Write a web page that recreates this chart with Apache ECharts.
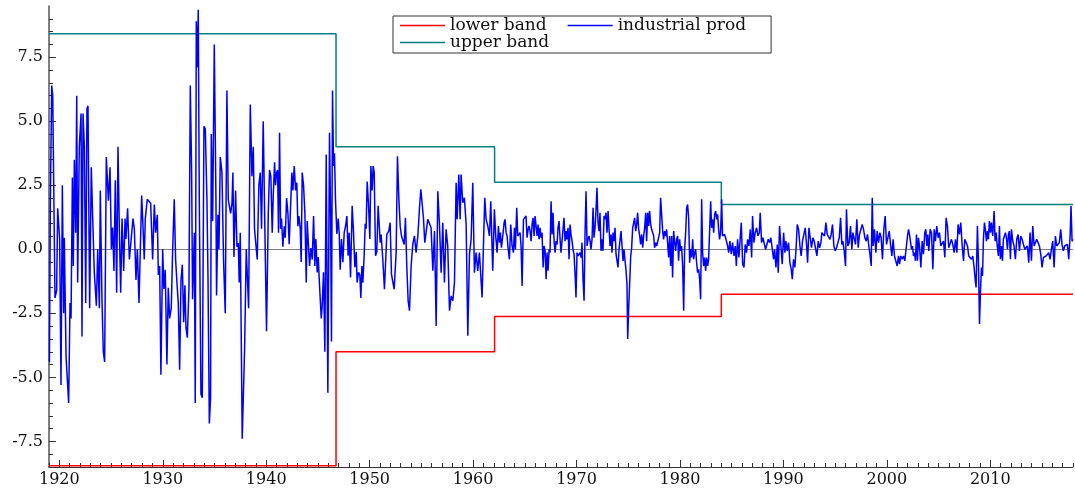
<!DOCTYPE html>
<html>
<head>
<meta charset="utf-8">
<script src="https://cdn.jsdelivr.net/npm/echarts@6/dist/echarts.min.js"></script>
<style>
html,body{margin:0;padding:0;background:#fff;}
#chart{width:1075px;height:493px;}
</style>
</head>
<body>
<div id="chart"></div>
<script>
// ---- data (decimal year, growth %) ----
const t1 = [1919.04,1919.13,1919.26,1919.36,1919.58,1919.74,1919.84,1920.03,1920.16,1920.29,
1920.42,1920.48,1920.65,1920.81,1920.90,1921.03,1921.13,1921.26,1921.35,1921.45,
1921.58,1921.68,1921.77,1921.93,1922.10,1922.19,1922.29,1922.42,1922.55,1922.67,
1922.77,1922.93,1923.09,1923.19,1923.38,1923.58,1923.71,1923.87,1923.96,1924.12,
1924.25,1924.38,1924.54,1924.74,1924.90,1925.03,1925.15,1925.28,1925.41,1925.54,
1925.67,1925.80,1925.93,1926.06,1926.22,1926.35,1926.44,1926.60,1926.77,1926.93,
1927.12,1927.25,1927.41,1927.54,1927.70,1927.83,1927.96,1928.09,1928.21,1928.31,
1928.50,1928.67,1928.83,1929.02,1929.18,1929.31,1929.47,1929.57,1929.70,1929.82,
1929.99,1930.11,1930.24,1930.40,1930.53,1930.66,1930.82,1930.95,1931.11,1931.24,
1931.40,1931.50,1931.63,1931.76,1931.89,1932.02,1932.14,1932.24,1932.37,1932.53,
1932.66,1932.79,1932.88,1933.05,1933.14,1933.24,1933.34,1933.43,1933.53,1933.69,
1933.82,1933.98,1934.11,1934.27,1934.37,1934.50,1934.62,1934.69,1934.82,1934.98,
1935.14,1935.20];
const v1 = [-4.4,1.8,6.4,6.0,-1.9,-1.6,1.6,0.4,-5.3,2.5,
-2.5,0.45,-4.2,-4.2,-6.0,-2.1,-2.7,2.8,-0.65,3.5,
0.65,6.0,-1.3,4.0,5.3,-3.4,5.3,4.0,-2.1,5.5,
5.6,-2.3,3.2,1.7,-0.9,-2.2,0.0,-2.3,2.3,-1.95,
-4.0,-4.4,3.6,1.9,3.2,0.0,0.85,-0.85,2.7,-1.7,
4.0,0.8,-1.7,1.2,-0.85,1.2,0.4,1.6,-0.4,-0.4,
1.2,0.8,-1.2,0.0,-2.1,0.0,2.1,0.85,-0.4,1.2,
1.95,1.9,1.8,-0.4,1.75,0.65,1.35,-1.0,-0.65,-4.9,
0.0,-1.55,-0.8,-4.5,-1.5,-2.7,-2.3,-0.1,1.95,-0.4,
-1.5,-2.1,-4.7,-1.2,-0.6,-2.85,-1.4,-3.05,-3.45,-1.55,
6.4,3.0,-1.95,0.65,-6.0,8.9,7.1,9.35,1.95,-5.65,
-5.8,4.8,4.7,1.95,-1.05,-6.8,-5.8,4.5,1.1,8.0,
1.95,-1.8];

const t2 = [1935.33,1935.43,1935.56,1935.72,1935.88,1936.04,1936.20,1936.33,1936.46,1936.56,
1936.69,1936.78,1936.88,1937.04,1937.17,1937.30,1937.39,1937.49,1937.68,1937.91,
1938.07,1938.30,1938.46,1938.62,1938.75,1938.87,1939.00,1939.13,1939.29,1939.42,
1939.55,1939.71,1939.87,1940.03,1940.20,1940.32,1940.45,1940.58,1940.68,1940.81,
1940.90,1941.00,1941.10,1941.19,1941.29,1941.39,1941.48,1941.61,1941.74,1941.84,
1941.97,1942.10,1942.22,1942.35,1942.48,1942.58,1942.71,1942.84,1942.96,1943.06,
1943.16,1943.29,1943.38,1943.48,1943.61,1943.74,1943.87,1943.96,1944.09,1944.19,
1944.32,1944.45,1944.58,1944.70,1944.80,1944.93,1945.03,1945.16,1945.32,1945.41,
1945.54,1945.67,1945.80,1945.96,1946.12,1946.22,1946.31,1946.41,1946.51,1946.60,
1946.70,1946.83,1946.96,1947.06,1947.15,1947.28,1947.41,1947.54,1947.67,1947.80,
1947.92,1948.02,1948.15,1948.31,1948.44,1948.57,1948.70,1948.79,1948.92,1949.05,
1949.15,1949.25,1949.34,1949.47,1949.57,1949.66,1949.76,1949.89,1950.02,1950.12,
1950.24,1950.34,1950.44,1950.57,1950.69,1950.82];
const v2 = [1.35,0.0,3.6,3.0,-0.5,-2.5,6.2,1.95,1.9,1.4,
1.8,3.0,-0.3,2.3,0.1,0.25,-1.3,0.65,-7.4,-3.9,
0.0,-2.3,5.65,2.85,4.0,0.8,0.75,-0.4,2.5,3.0,
0.8,5.0,0.8,-3.2,1.4,3.1,2.85,0.65,2.1,3.4,
2.5,3.0,3.1,0.65,4.55,0.8,1.2,0.1,0.9,0.45,
2.0,1.4,0.2,0.25,3.0,2.3,3.25,2.3,2.6,0.9,
1.3,0.8,-0.5,3.0,2.5,1.4,-1.3,1.1,0.1,-0.65,
0.05,-0.4,1.3,-0.65,0.4,-0.9,-0.3,-1.45,-2.7,-2.2,
-0.9,-4.0,3.7,-5.6,4.55,1.4,-3.6,6.2,3.25,3.75,
1.9,0.6,1.2,0.6,-0.8,0.4,-0.5,0.65,0.9,1.3,
-0.25,0.65,-1.1,1.7,0.65,-0.7,-0.1,-1.3,-0.9,-1.0,
-1.9,-0.65,-1.3,-0.25,1.0,0.8,2.65,1.75,0.4,3.25,
2.3,3.25,3.0,-0.25,-0.1,1.7];

const t3 = [1951.02,1951.11,1951.27,1951.43,1951.66,1951.85,1951.98,1952.11,1952.24,1952.37,
1952.56,1952.69,1952.82,1952.95,1953.08,1953.21,1953.34,1953.46,1953.59,1953.72,
1953.85,1954.01,1954.17,1954.33,1954.49,1954.66,1954.82,1954.95,1955.07,1955.20,
1955.33,1955.46,1955.62,1955.78,1955.94,1956.11,1956.27,1956.43,1956.59,1956.75,
1956.91,1957.07,1957.23,1957.39,1957.55,1957.72,1957.88,1958.04,1958.20,1958.36,
1958.46,1958.62,1958.75,1958.84,1959.00,1959.16,1959.33,1959.49,1959.65,1959.81,
1959.97,1960.13,1960.29,1960.45,1960.61,1960.77,1960.87,1961.00,1961.13,1961.26,
1961.42,1961.58,1961.71,1961.84,1961.90];
const v3 = [0.26,0.58,-0.39,-1.56,0.58,0.71,1.04,-0.97,-0.91,-1.56,
-0.13,3.63,2.01,0.91,0.52,0.52,0.19,1.23,-0.65,-2.01,
-2.40,-0.65,0.19,0.52,-0.13,0.52,1.62,2.34,2.27,1.23,
0.26,0.19,1.17,1.10,0.84,-0.84,0.71,-2.99,2.27,0.97,
-0.91,1.04,-1.30,0.78,0.13,-2.40,-1.82,-2.01,-1.30,2.60,
1.17,2.92,1.17,2.92,1.82,2.01,0.97,-3.37,-0.19,0.39,
2.60,-0.91,-0.13,-0.84,-0.13,-0.13,-1.88,0.13,2.01,1.17,
0.91,0.52,1.88,0.00,-0.84];

const t3b = [1962.06,1962.19,1962.32,1962.45,1962.55,1962.64,1962.74,1962.87,1963.00,1963.09,
1963.19,1963.29,1963.38,1963.51,1963.64,1963.77,1963.90,1964.00,1964.09,1964.22,
1964.32,1964.41,1964.54,1964.64,1964.74,1964.87,1964.99,1965.12,1965.22,1965.32,
1965.41,1965.51,1965.61,1965.70,1965.80,1965.90,1965.99,1966.09,1966.19,1966.28,
1966.38,1966.48,1966.57,1966.67,1966.77,1966.86,1966.96,1967.06,1967.15,1967.25,
1967.35,1967.44,1967.54,1967.64,1967.73,1967.83,1967.93,1968.02,1968.12,1968.21,
1968.31,1968.41,1968.50,1968.60,1968.70,1968.79,1968.89,1968.99,1969.08,1969.18,
1969.28,1969.37,1969.47,1969.57,1969.66,1969.76,1969.86,1969.95,1970.05,1970.15,
1970.24,1970.34,1970.44,1970.53,1970.63,1970.73,1970.82,1970.92,1971.02,1971.11,
1971.21,1971.31,1971.40,1971.50,1971.60,1971.69,1971.79,1971.89,1971.98,1972.08,
1972.18,1972.27,1972.37,1972.47,1972.56,1972.66,1972.76,1972.85,1972.95,1973.05,
1973.14,1973.24,1973.34,1973.43,1973.53,1973.63,1973.72,1973.82,1973.92,1974.01,
1974.11,1974.21,1974.30,1974.40,1974.50,1974.59,1974.69,1974.79,1974.88,1974.95,
1975.04,1975.14,1975.24,1975.33,1975.43,1975.53,1975.62,1975.72,1975.82,1975.91,
1976.01,1976.11,1976.20,1976.30,1976.40,1976.49,1976.59,1976.69,1976.78,1976.88,
1976.98,1977.07,1977.17,1977.26,1977.36,1977.46,1977.55,1977.65,1977.75,1977.84,
1977.94,1978.04,1978.13,1978.23,1978.33,1978.42,1978.52,1978.62,1978.71,1978.81,
1978.91,1979.00,1979.10,1979.20,1979.29,1979.39,1979.49,1979.58,1979.68,1979.78,
1979.87,1979.97,1980.07,1980.16,1980.26,1980.36,1980.45,1980.55,1980.65,1980.74,
1980.84,1980.94,1981.03,1981.13,1981.23,1981.32,1981.42,1981.52,1981.61,1981.71,
1981.81,1981.90,1982.00,1982.10,1982.19,1982.29,1982.39,1982.48,1982.58,1982.68,
1982.77,1982.87,1982.97,1983.06,1983.16,1983.26,1983.35,1983.45,1983.55,1983.64,
1983.74,1983.83,1983.93,1984.03,1984.12,1984.22,1984.32,1984.45,1984.58,1984.71];
const v3b = [1.56,0.52,-0.13,0.91,0.26,0.65,0.06,0.52,1.04,1.17,
0.65,0.52,0.06,-0.39,0.97,0.13,-0.13,0.84,0.00,1.62,
0.52,0.58,0.65,0.13,-1.43,1.17,1.10,1.30,0.45,0.78,
0.91,0.71,0.32,0.97,1.23,0.52,1.30,1.36,0.52,0.97,
0.39,0.84,0.45,0.65,-0.71,0.13,-0.06,-1.17,-0.13,-0.84,
0.00,-0.13,1.88,0.58,1.43,0.32,-0.13,0.32,0.19,0.84,
1.10,0.39,-0.13,0.32,0.39,1.23,0.32,0.71,0.39,0.84,
-0.39,0.97,0.58,0.32,0.00,-0.19,-0.97,-1.88,-0.13,-0.26,
-0.19,-0.13,-0.32,0.26,-1.17,-2.01,0.52,2.27,0.13,0.39,
0.52,0.32,0.00,0.39,1.62,0.45,0.84,1.56,2.40,1.04,
0.71,1.43,-0.06,0.39,-0.06,1.30,1.17,1.43,0.65,1.49,
0.84,0.13,0.58,-0.13,0.65,0.32,0.84,-0.19,-0.13,-0.71,
0.00,-0.06,0.71,0.13,-0.45,0.00,-0.06,-0.84,-1.36,-3.50,
-2.34,-1.30,-0.26,0.06,0.84,1.04,1.23,0.71,0.97,1.43,
0.78,0.52,0.19,0.58,0.06,0.52,0.84,1.43,0.32,1.43,
0.91,1.49,0.97,0.78,0.84,0.52,0.06,0.26,0.13,0.19,
0.13,0.65,2.01,2.08,0.71,0.39,0.71,0.52,0.78,0.71,
-0.32,0.52,-0.65,0.52,-1.10,0.71,0.65,-0.06,0.39,0.52,
-0.45,0.39,-0.06,0.13,-0.65,-2.40,0.00,0.65,1.62,1.75,
1.23,-0.52,0.00,-0.32,0.39,-0.39,-0.13,0.00,-0.52,-0.91,
-0.78,-1.17,-1.95,1.95,-0.13,-0.65,-0.32,-0.84,-0.32,-0.65,
-0.39,-0.45,1.88,0.84,1.17,0.65,1.36,1.49,1.17,1.36,
0.78,0.39,0.65,1.95,0.52,0.58,0.58,0.39,0.19,-0.13];

const t4 = [1984.83,1984.96,1985.09,1985.22,1985.35,1985.45,1985.57,1985.70,1985.83,1985.93,
1986.06,1986.19,1986.31,1986.44,1986.54,1986.67,1986.80,1986.93,1987.02,1987.15,
1987.28,1987.41,1987.54,1987.67,1987.76,1987.89,1988.02,1988.15,1988.28,1988.41,
1988.54,1988.67,1988.79,1988.92,1989.05,1989.15,1989.28,1989.41,1989.50,1989.63,
1989.76,1989.89,1990.02,1990.15,1990.24,1990.37,1990.50,1990.63,1990.76,1990.86,
1990.98,1991.11,1991.24,1991.34,1991.47,1991.60,1991.72,1991.85,1991.98,1992.11,
1992.24,1992.34,1992.47,1992.59,1992.72,1992.85,1992.98,1993.11,1993.24,1993.37,
1993.50,1993.63,1993.72,1993.85,1993.98,1994.11,1994.24,1994.37,1994.50,1994.62,
1994.75,1994.88,1995.01,1995.14,1995.27,1995.40,1995.53,1995.65,1995.75,1995.88,
1996.01,1996.10,1996.23,1996.36,1996.49,1996.62,1996.72,1996.85,1996.97,1997.10,
1997.23,1997.36,1997.49,1997.62,1997.75,1997.88,1998.01,1998.13,1998.26,1998.39,
1998.49,1998.59,1998.68,1998.81,1998.94,1999.07,1999.20,1999.33,1999.45,1999.58,
1999.71,1999.84,1999.97,2000.10,2000.23,2000.36,2000.49,2000.61,2000.74,2000.87,
2001.00,2001.13];
const v4 = [0.32,-0.19,0.26,-0.26,0.13,-0.65,0.39,-0.32,0.45,1.04,
-0.58,-0.71,0.19,-0.13,0.39,0.13,0.78,-0.32,1.30,0.26,
0.65,0.84,0.52,0.65,1.43,0.26,0.45,0.39,0.00,-0.06,
0.39,0.26,0.45,0.45,-0.39,0.00,-0.71,0.19,-0.91,0.91,
0.13,-0.58,0.65,-0.13,0.32,-0.06,0.26,-0.52,-0.78,-1.17,
-0.39,-0.71,0.13,0.97,0.78,0.13,-0.26,0.32,0.58,0.84,
0.19,-0.52,0.84,0.91,0.06,0.45,0.32,0.39,-0.26,0.32,
0.06,0.26,0.65,0.65,0.52,1.04,0.58,0.58,0.39,0.58,
0.97,0.13,-0.06,0.06,0.26,0.45,1.23,0.19,0.32,-0.06,
-0.65,1.56,0.13,0.26,0.91,0.00,0.65,0.71,0.19,1.17,
0.06,0.58,0.65,0.97,0.78,0.45,0.32,0.58,0.13,-0.26,
-0.65,2.01,0.13,0.78,-0.13,0.71,0.26,0.65,0.45,-0.39,
0.78,1.30,0.19,0.45,0.71,0.19,-0.26,0.39,-0.26,-0.32,
-0.65,-0.26];

const t5 = [2001.23,2001.35,2001.48,2001.61,2001.74,2001.87,2002.00,2002.10,2002.19,2002.29,
2002.39,2002.48,2002.58,2002.68,2002.77,2002.87,2002.96,2003.06,2003.16,2003.29,
2003.42,2003.54,2003.67,2003.77,2003.87,2003.96,2004.06,2004.19,2004.32,2004.45,
2004.58,2004.70,2004.83,2004.96,2005.09,2005.22,2005.35,2005.48,2005.61,2005.73,
2005.86,2005.99,2006.12,2006.25,2006.38,2006.51,2006.64,2006.77,2006.89,2007.02,
2007.15,2007.28,2007.41,2007.54,2007.67,2007.80,2007.92,2008.05,2008.18,2008.31,
2008.44,2008.54,2008.63,2008.76,2008.86,2008.96,2009.05,2009.15,2009.25,2009.34,
2009.44,2009.53,2009.63,2009.73,2009.82,2009.92,2010.02,2010.11,2010.24,2010.37,
2010.47,2010.57,2010.66,2010.79,2010.89,2010.98,2011.08,2011.18,2011.27,2011.37,
2011.47,2011.56,2011.66,2011.76,2011.85,2011.95,2012.05,2012.18,2012.30,2012.43,
2012.56,2012.69,2012.82,2012.95,2013.08,2013.21,2013.34,2013.46,2013.59,2013.72,
2013.85,2013.98,2014.11,2014.24,2014.37,2014.49,2014.62,2014.75,2014.88,2015.01,
2015.14,2015.27,2015.40,2015.53,2015.65,2015.78,2015.91,2016.04,2016.17,2016.30,
2016.43,2016.56,2016.68,2016.81,2016.94,2017.07,2017.20,2017.33,2017.46,2017.59,
2017.72,2017.81,2017.91,2018.00];
const v5 = [-0.58,-0.26,-0.39,-0.26,-0.45,-0.39,0.52,0.78,0.58,0.52,
0.00,0.13,-0.26,-0.13,-0.45,0.58,-0.45,0.45,0.13,-0.71,
0.32,-0.19,0.65,0.78,0.13,0.58,-0.06,0.78,0.65,-0.78,
0.78,0.32,0.91,0.45,0.65,0.13,0.06,0.32,-0.32,1.23,
0.91,0.06,0.00,0.39,0.19,-0.13,0.39,-0.13,0.97,0.58,
1.04,0.19,-0.45,0.39,0.45,0.13,-0.26,-0.26,-0.39,-0.26,
-0.71,-1.17,-1.49,0.91,-0.52,-2.92,-1.69,-0.71,-1.04,0.39,
1.04,0.78,0.32,0.71,0.39,1.10,0.65,1.04,0.52,1.49,
0.32,0.65,0.19,-0.26,0.91,-0.39,0.13,-0.45,0.39,0.32,
0.65,0.45,0.00,0.58,0.71,-0.39,0.78,0.32,0.13,-0.39,
0.39,0.58,-0.06,0.52,0.39,0.19,0.00,0.06,0.13,-0.52,
0.65,-0.45,0.91,0.13,0.06,0.39,0.26,0.13,-0.19,-0.71,
-0.32,-0.39,-0.26,-0.19,-0.13,-0.39,0.00,0.32,-0.71,0.52,
0.13,0.06,0.26,0.78,0.19,-0.06,0.13,0.06,0.19,-0.39,
0.52,1.69,0.32,0.39];

// band break years and levels
const bandYears = [1919, 1946.75, 1962.08, 1984.0, 2018];
const upperLevels = [8.42, 4.0, 2.62, 1.75];
const lowerLevels = [-8.45, -4.0, -2.62, -1.75];

// tick values
const xMajorTicks = [1920,1930,1940,1950,1960,1970,1980,1990,2000,2010];
const xMinorTicks = [];
for (let y = 1919; y <= 2018; y++) xMinorTicks.push(y);
const yMajorTicks = [-7.5,-5,-2.5,0,2.5,5,7.5];
const yMinorTicks = [];
for (let k = -16; k <= 18; k++) yMinorTicks.push(k / 2);

// ---- build series data ----
function zip(t, v) { return t.map((x, i) => [x, v[i]]); }
const ipData = [].concat(zip(t1, v1), zip(t2, v2), zip(t3, v3), zip(t3b, v3b), zip(t4, v4), zip(t5, v5));
function stepData(levels) {
  const out = [];
  for (let i = 0; i < levels.length; i++) {
    out.push([bandYears[i], levels[i]]);
    out.push([bandYears[i + 1], levels[i]]);
  }
  return out;
}

const FONT = 'DejaVu Serif';
const chart = echarts.init(document.getElementById('chart'));
const xBase = { type: 'value', min: 1919, max: 2018, gridIndex: 0, position: 'bottom', splitLine: { show: false } };
const yBase = { type: 'value', min: -8.5, max: 9.5, gridIndex: 0, position: 'left', splitLine: { show: false } };

chart.setOption({
  animation: false,
  backgroundColor: '#fff',
  grid: { left: 49, right: 2, top: 6, height: 461, containLabel: false },
  legend: [
    {
      data: ['lower band', 'industrial prod'],
      left: 393, top: 16,
      orient: 'horizontal',
      padding: [1, 25, 19, 7],
      itemGap: 21, itemWidth: 45, itemHeight: 1.5,
      icon: 'rect',
      borderColor: '#333', borderWidth: 1, backgroundColor: '#fff',
      textStyle: { fontFamily: FONT, fontSize: 17, color: '#111' },
      z: 10
    },
    {
      data: ['upper band'],
      left: 400, top: 34,
      padding: 0,
      itemWidth: 45, itemHeight: 1.5,
      icon: 'rect',
      textStyle: { fontFamily: FONT, fontSize: 17, color: '#111' },
      z: 11
    }
  ],
  xAxis: [
    Object.assign({}, xBase, {
      axisLine: { show: true, onZero: false, lineStyle: { color: '#333', width: 1 } },
      axisTick: { show: true, inside: true, length: 7, customValues: xMajorTicks, lineStyle: { color: '#333' } },
      axisLabel: { show: true, customValues: xMajorTicks, margin: 5, fontFamily: FONT, fontSize: 16, color: '#111',
        formatter: v => String(Math.round(v)) }
    }),
    Object.assign({}, xBase, {
      axisLine: { show: false, onZero: false },
      axisTick: { show: true, inside: true, length: 4, customValues: xMinorTicks, lineStyle: { color: '#333' } },
      axisLabel: { show: false }
    })
  ],
  yAxis: [
    Object.assign({}, yBase, {
      axisLine: { show: true, onZero: false, lineStyle: { color: '#555', width: 1.5 } },
      axisTick: { show: true, inside: true, length: 7, customValues: yMajorTicks, lineStyle: { color: '#333' } },
      axisLabel: { show: true, customValues: yMajorTicks, margin: 6, fontFamily: FONT, fontSize: 16, color: '#111',
        formatter: v => v.toFixed(1) }
    }),
    Object.assign({}, yBase, {
      axisLine: { show: false, onZero: false },
      axisTick: { show: true, inside: true, length: 4, customValues: yMinorTicks, lineStyle: { color: '#333' } },
      axisLabel: { show: false }
    })
  ],
  series: [
    {
      name: 'lower band', type: 'line', xAxisIndex: 0, yAxisIndex: 0,
      data: stepData(lowerLevels), symbol: 'none', color: '#ff0000',
      lineStyle: { color: '#ff0000', width: 1.5 }, z: 3,
      markLine: {
        silent: true, symbol: 'none', label: { show: false },
        lineStyle: { color: '#808080', width: 1, type: 'solid' },
        data: [{ yAxis: 0 }], z: 2
      }
    },
    {
      name: 'industrial prod', type: 'line', xAxisIndex: 0, yAxisIndex: 0,
      data: ipData, symbol: 'none', color: '#0000ff',
      lineStyle: { color: '#0000ff', width: 1.5 }, z: 5
    },
    {
      name: 'upper band', type: 'line', xAxisIndex: 0, yAxisIndex: 0,
      data: stepData(upperLevels), symbol: 'none', color: '#008080',
      lineStyle: { color: '#008080', width: 1.5 }, z: 3
    }
  ]
});
</script>
</body>
</html>
